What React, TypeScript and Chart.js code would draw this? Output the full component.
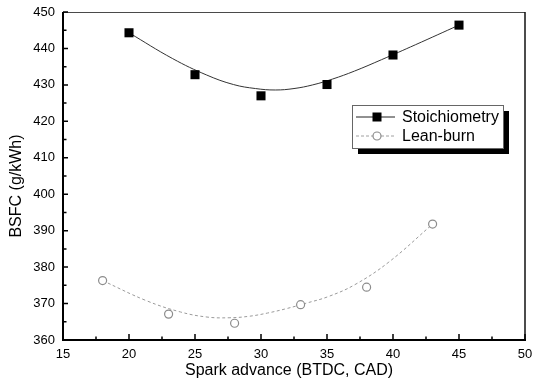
import { useEffect, useRef } from "react";
import { Chart, registerables } from "chart.js";

Chart.register(...registerables);

// Measured brake specific fuel consumption vs spark advance
const advanceStoich = [20, 25, 30, 35, 40, 45];
const bsfcStoich = [444.3, 432.8, 427.0, 430.1, 438.2, 446.4];
const advanceLean = [18, 23, 28, 33, 38, 43];
const bsfcLean = [376.3, 367.1, 364.6, 369.7, 374.5, 391.8];

// Smoothed trend lines (B-spline style) passing the end points
const trendStoichX = [20, 23.31, 25.89, 27.91, 29.58, 31.08, 32.5, 33.92, 35.42, 37.09, 39.12, 41.69, 45];
const trendStoichY = [444.3, 437.2, 432.7, 430.1, 429.0, 428.6, 429.0, 430.0, 431.6, 433.8, 436.9, 441.0, 446.4];
const trendLeanX = [18, 21.31, 23.89, 25.91, 27.58, 29.08, 30.5, 31.92, 33.42, 35.09, 37.12, 39.69, 43];
const trendLeanY = [376.3, 370.8, 367.7, 366.3, 366.1, 366.5, 367.4, 368.6, 370.1, 371.9, 375.2, 381.4, 391.8];

// Axis ticks
const xTicks = [15, 20, 25, 30, 35, 40, 45, 50];
const xMinorTicks = [17.5, 22.5, 27.5, 32.5, 37.5, 42.5, 47.5];
const yTicks = [360, 370, 380, 390, 400, 410, 420, 430, 440, 450];
const yMinorTicks = [365, 375, 385, 395, 405, 415, 425, 435, 445];

const seriesNames = ["Stoichiometry", "Lean-burn"];
const xTitle = "Spark advance (BTDC, CAD)";
const yTitle = "BSFC (g/kWh)";

const FONT = '"Liberation Sans", Arial, sans-serif';
const LEAN_GREY = "#8c8c8c";

const pairs = (xs: number[], ys: number[]) => xs.map((x, i) => ({ x, y: ys[i] }));

const axesPlugin = {
  id: "originAxes",
  afterDatasetsDraw(chart: any) {
    const { ctx, chartArea: a, scales } = chart;
    const xs = scales.x;
    const ys = scales.y;
    ctx.save();

    // frame
    ctx.strokeStyle = "#4a4a4a";
    ctx.lineWidth = 1.2;
    ctx.beginPath();
    ctx.moveTo(a.left, a.top + 0.5);
    ctx.lineTo(a.right, a.top + 0.5);
    ctx.stroke();
    ctx.strokeStyle = "#111";
    ctx.lineWidth = 1.5;
    ctx.beginPath();
    ctx.moveTo(a.right, a.top);
    ctx.lineTo(a.right, a.bottom);
    ctx.stroke();
    ctx.strokeStyle = "#000";
    ctx.lineWidth = 2;
    ctx.beginPath();
    ctx.moveTo(a.left, a.top);
    ctx.lineTo(a.left, a.bottom + 1);
    ctx.moveTo(a.left - 1, a.bottom);
    ctx.lineTo(a.right + 1, a.bottom);
    ctx.stroke();

    // inward ticks
    ctx.lineWidth = 1.5;
    ctx.beginPath();
    xTicks.forEach((v) => {
      const px = xs.getPixelForValue(v);
      ctx.moveTo(px, a.bottom);
      ctx.lineTo(px, a.bottom - 6);
    });
    xMinorTicks.forEach((v) => {
      const px = xs.getPixelForValue(v);
      ctx.moveTo(px, a.bottom);
      ctx.lineTo(px, a.bottom - 3.5);
    });
    yTicks.forEach((v) => {
      const py = ys.getPixelForValue(v);
      ctx.moveTo(a.left, py);
      ctx.lineTo(a.left + 5, py);
    });
    yMinorTicks.forEach((v) => {
      const py = ys.getPixelForValue(v);
      ctx.moveTo(a.left, py);
      ctx.lineTo(a.left + 3.5, py);
    });
    ctx.stroke();

    // tick labels
    ctx.fillStyle = "#000";
    ctx.font = `13px ${FONT}`;
    ctx.textAlign = "center";
    ctx.textBaseline = "middle";
    xTicks.forEach((v) => {
      ctx.fillText(String(v), xs.getPixelForValue(v), a.bottom + 14);
    });
    ctx.textAlign = "right";
    yTicks.forEach((v) => {
      ctx.fillText(String(v), a.left - 8, ys.getPixelForValue(v));
    });

    // axis titles
    ctx.font = `16px ${FONT}`;
    ctx.textAlign = "center";
    ctx.textBaseline = "alphabetic";
    ctx.fillText(xTitle, (a.left + a.right) / 2 - 5, a.bottom + 35);
    ctx.save();
    ctx.translate(21, (a.top + a.bottom) / 2 + 10);
    ctx.rotate(-Math.PI / 2);
    ctx.fillText(yTitle, 0, 0);
    ctx.restore();

    // legend box with drop shadow
    const bx = 352, by = 105, bw = 151, bh = 43, sh = 6;
    ctx.fillStyle = "#000";
    ctx.fillRect(bx + sh, by + sh, bw, bh);
    ctx.fillStyle = "#fff";
    ctx.fillRect(bx, by, bw, bh);
    ctx.strokeStyle = "#666";
    ctx.lineWidth = 1;
    ctx.strokeRect(bx + 0.5, by + 0.5, bw, bh);

    const rows = [by + 12, by + 31];
    const lx0 = bx + 4, lx1 = bx + 43, mx = bx + 25;
    // stoichiometric entry
    ctx.strokeStyle = "#222";
    ctx.lineWidth = 1;
    ctx.beginPath();
    ctx.moveTo(lx0, rows[0]);
    ctx.lineTo(lx1, rows[0]);
    ctx.stroke();
    ctx.fillStyle = "#000";
    ctx.fillRect(mx - 4.5, rows[0] - 4.5, 9, 9);
    // lean-burn entry
    ctx.strokeStyle = "#a0a0a0";
    ctx.setLineDash([3, 2]);
    ctx.beginPath();
    ctx.moveTo(lx0, rows[1]);
    ctx.lineTo(lx1, rows[1]);
    ctx.stroke();
    ctx.setLineDash([]);
    ctx.fillStyle = "#fff";
    ctx.strokeStyle = LEAN_GREY;
    ctx.lineWidth = 1.2;
    ctx.beginPath();
    ctx.arc(mx, rows[1], 4, 0, Math.PI * 2);
    ctx.fill();
    ctx.stroke();

    ctx.fillStyle = "#000";
    ctx.font = `16px ${FONT}`;
    ctx.textAlign = "left";
    ctx.textBaseline = "middle";
    ctx.fillText(seriesNames[0], bx + 50, rows[0] + 1);
    ctx.fillText(seriesNames[1], bx + 50, rows[1] + 1);

    ctx.restore();
  },
};

export default function App() {
  const canvasRef = useRef<HTMLCanvasElement | null>(null);

  useEffect(() => {
    const canvas = canvasRef.current;
    if (!canvas) return;
    const chart = new Chart(canvas, {
      type: "line",
      data: {
        datasets: [
          {
            label: seriesNames[0],
            data: pairs(advanceStoich, bsfcStoich),
            showLine: false,
            pointStyle: "rect",
            pointRadius: 6.4,
            pointBackgroundColor: "#000",
            pointBorderColor: "#000",
            pointBorderWidth: 0,
          },
          {
            label: seriesNames[1],
            data: pairs(advanceLean, bsfcLean),
            showLine: false,
            pointStyle: "circle",
            pointRadius: 4,
            pointBackgroundColor: "#fff",
            pointBorderColor: LEAN_GREY,
            pointBorderWidth: 1.2,
          },
          {
            label: "stoich-trend",
            data: pairs(trendStoichX, trendStoichY),
            borderColor: "#333",
            borderWidth: 1,
            pointRadius: 0,
            tension: 0.4,
            fill: false,
          },
          {
            label: "lean-trend",
            data: pairs(trendLeanX, trendLeanY),
            borderColor: "#9a9a9a",
            borderWidth: 1,
            borderDash: [3, 2.5],
            pointRadius: 0,
            tension: 0.4,
            fill: false,
          },
        ],
      },
      options: {
        responsive: false,
        maintainAspectRatio: false,
        animation: false,
        layout: { padding: { left: 63, right: 9, top: 12, bottom: 52 } },
        plugins: {
          legend: { display: false },
          tooltip: { enabled: false },
        },
        scales: {
          x: { type: "linear", min: 15, max: 50, display: false },
          y: { type: "linear", min: 360, max: 450, display: false },
        },
      },
      plugins: [axesPlugin],
    });
    return () => chart.destroy();
  }, []);

  return (
    <div style={{ position: "absolute", left: 0, top: 0, width: 534, height: 392, background: "#fff" }}>
      <canvas ref={canvasRef} width={534} height={392} />
    </div>
  );
}
